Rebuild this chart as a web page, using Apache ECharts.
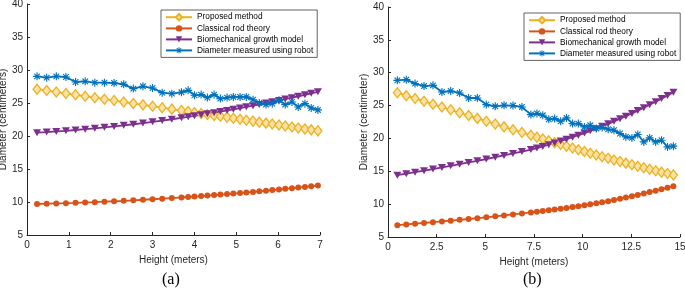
<!DOCTYPE html>
<html>
<head>
<meta charset="utf-8">
<title>Diameter vs height</title>
<script src="https://cdn.jsdelivr.net/npm/echarts@6/dist/echarts.min.js"></script>
<style>
  html, body { margin: 0; padding: 0; background: #fff; }
  #chart { width: 685px; height: 290px; }
</style>
</head>
<body>
<div id="chart"></div>
<script>
// legend names
var names = ['Proposed method', 'Classical rod theory', 'Biomechanical growth model', 'Diameter measured using robot'];

// axis ticks
var yTicks = [5, 10, 15, 20, 25, 30, 35, 40];
var xTicksA = [0, 1, 2, 3, 4, 5, 6, 7];
var xTicksB = [0, 2.5, 5, 7.5, 10, 12.5, 15];

// (a) height in meters
var heightA = [0.24, 0.47, 0.70, 0.93, 1.16, 1.39, 1.62, 1.85, 2.08, 2.31, 2.54, 2.77, 3.00, 3.23, 3.46, 3.69,
    3.85, 4.00, 4.16, 4.31, 4.47, 4.62, 4.78, 4.93, 5.09, 5.24, 5.40, 5.55, 5.71, 5.86, 6.02, 6.17, 6.33, 6.48, 6.64, 6.79, 6.95];
var proposedA = [27.10, 26.88, 26.66, 26.45, 26.24, 26.02, 25.80, 25.58, 25.37, 25.15, 24.93, 24.72, 24.50, 24.29, 24.07, 23.85,
    23.71, 23.56, 23.41, 23.27, 23.12, 22.98, 22.83, 22.68, 22.54, 22.39, 22.25, 22.10, 21.95, 21.81, 21.66, 21.51, 21.37, 21.22, 21.07, 20.93, 20.78];
var rodA = [9.70, 9.74, 9.78, 9.82, 9.87, 9.93, 9.98, 10.05, 10.11, 10.18, 10.26, 10.34, 10.42, 10.50, 10.60, 10.69,
    10.76, 10.83, 10.90, 10.97, 11.05, 11.12, 11.20, 11.28, 11.36, 11.45, 11.53, 11.62, 11.71, 11.80, 11.89, 11.99, 12.09, 12.18, 12.29, 12.39, 12.50];
var bioA = [20.50, 20.59, 20.69, 20.79, 20.91, 21.03, 21.16, 21.31, 21.45, 21.61, 21.78, 21.96, 22.15, 22.34, 22.54, 22.75,
    22.90, 23.06, 23.21, 23.36, 23.54, 23.70, 23.87, 24.05, 24.23, 24.42, 24.60, 24.79, 24.99, 25.19, 25.39, 25.60, 25.81, 26.02, 26.25, 26.47, 26.70];
var robotA = [29.04, 28.84, 29.04, 28.94, 28.18, 28.28, 28.08, 28.08, 28.03, 27.83, 27.18, 27.53, 27.27, 26.57, 26.42, 26.62,
    26.92, 26.17, 26.27, 25.82, 26.27, 25.67, 25.82, 25.92, 25.92, 25.92, 25.50, 25.00, 24.76, 24.90, 25.40, 24.76, 25.15, 24.40, 24.90, 24.25, 23.95];

// (b) height in meters
var heightB = [0.48, 0.94, 1.39, 1.85, 2.31, 2.77, 3.22, 3.68, 4.14, 4.59, 5.05, 5.51, 5.96, 6.42, 6.88, 7.34,
    7.65, 7.95, 8.26, 8.56, 8.87, 9.17, 9.48, 9.78, 10.09, 10.39, 10.70, 11.00, 11.31, 11.61, 11.92, 12.22, 12.53, 12.83, 13.14, 13.44, 13.75, 14.05, 14.36, 14.66];
var proposedB = [26.95, 26.51, 26.08, 25.65, 25.21, 24.78, 24.35, 23.91, 23.48, 23.05, 22.62, 22.19, 21.76, 21.33, 20.90, 20.47,
    20.19, 19.91, 19.63, 19.36, 19.08, 18.81, 18.54, 18.27, 18.00, 17.74, 17.48, 17.22, 16.97, 16.72, 16.48, 16.24, 16.00, 15.77, 15.54, 15.31, 15.09, 14.87, 14.66, 14.45];
var rodB = [6.80, 6.91, 7.02, 7.13, 7.25, 7.37, 7.49, 7.61, 7.74, 7.87, 8.00, 8.14, 8.28, 8.43, 8.58, 8.74,
    8.85, 8.96, 9.07, 9.19, 9.31, 9.43, 9.56, 9.69, 9.83, 9.97, 10.12, 10.27, 10.45, 10.63, 10.82, 11.01, 11.21, 11.41, 11.62, 11.83, 12.05, 12.27, 12.50, 12.74];
var bioB = [14.40, 14.63, 14.86, 15.10, 15.34, 15.58, 15.83, 16.08, 16.34, 16.60, 16.87, 17.14, 17.42, 17.71, 18.00, 18.30,
    18.54, 18.79, 19.05, 19.32, 19.60, 19.89, 20.19, 20.50, 20.82, 21.15, 21.49, 21.85, 22.22, 22.60, 22.99, 23.39, 23.81, 24.24, 24.68, 25.13, 25.59, 26.06, 26.54, 27.03];
var robotB = [28.84, 28.94, 28.34, 27.97, 28.08, 27.06, 27.22, 26.91, 26.15, 26.15, 25.15, 24.89, 25.04, 25.00, 24.79, 23.63,
    23.80, 23.52, 22.92, 23.02, 22.61, 23.12, 22.26, 22.26, 21.75, 22.00, 21.50, 21.65, 21.40, 21.25, 20.75, 20.23, 20.08, 20.60, 19.47, 20.08, 19.47, 19.73, 18.71, 18.82];

var colors = ['#EDB120', '#D95319', '#7E2F8E', '#0072BD'];
// matlab-like asterisk marker
var star = 'path://M4.3,0h1.4v10h-1.4z M0,4.3h10v1.4h-10z M1,1.99l0.99,-0.99l7.01,7.01l-0.99,0.99z M8.01,1l0.99,0.99l-7.01,7.01l-0.99,-0.99z';

var axisColor = '#262626';
var font = '"Liberation Sans", Arial, sans-serif';

function pairs(xs, ys) {
    return xs.map(function (x, i) { return [x, ys[i]]; });
}

function makeSeries(idx, xs, lists) {
    var marks = [
        { symbol: 'diamond', symbolSize: [8, 10], itemStyle: { color: '#F8E2A6', borderColor: colors[0], borderWidth: 1.3 } },
        { symbol: 'circle', symbolSize: 6, itemStyle: { color: colors[1] } },
        { symbol: 'triangle', symbolSize: [8, 7], symbolRotate: 180, itemStyle: { color: colors[2] } },
        { symbol: star, symbolSize: 8, itemStyle: { color: colors[3] } }
    ];
    return lists.map(function (ys, i) {
        return {
            name: names[i],
            type: 'line',
            xAxisIndex: idx,
            yAxisIndex: idx,
            data: pairs(xs, ys),
            symbol: marks[i].symbol,
            symbolSize: marks[i].symbolSize,
            symbolRotate: marks[i].symbolRotate || 0,
            showAllSymbol: true,
            itemStyle: marks[i].itemStyle,
            lineStyle: { color: colors[i], width: 1.8 }
        };
    });
}

function xAxisOf(idx, ticks) {
    return {
        type: 'value', gridIndex: idx,
        min: ticks[0], max: ticks[ticks.length - 1], interval: ticks[1] - ticks[0],
        name: 'Height (meters)', nameLocation: 'middle', nameGap: 16,
        nameTextStyle: { fontSize: 10, color: axisColor, fontFamily: font },
        axisLine: { lineStyle: { color: axisColor, width: 1 } },
        axisTick: { inside: true, length: 3, lineStyle: { color: axisColor } },
        axisLabel: { fontSize: 10, color: axisColor, margin: 5, fontFamily: font },
        splitLine: { show: false }
    };
}

function yAxisOf(idx, label, gap) {
    return {
        type: 'value', gridIndex: idx,
        min: yTicks[0], max: yTicks[yTicks.length - 1], interval: yTicks[1] - yTicks[0],
        name: label, nameLocation: 'middle', nameGap: gap, nameRotate: 90,
        nameTextStyle: { fontSize: 10, color: axisColor, fontFamily: font },
        axisLine: { show: true, lineStyle: { color: axisColor, width: 1 } },
        axisTick: { show: true, inside: true, length: 3, lineStyle: { color: axisColor } },
        axisLabel: { fontSize: 10, color: axisColor, margin: 4, fontFamily: font },
        splitLine: { show: false }
    };
}

function legendOf(left, top) {
    return {
        data: names, orient: 'vertical', left: left, top: top,
        itemWidth: 26, itemHeight: 8, itemGap: 3,
        padding: [3, 4, 3, 4],
        borderColor: '#3a3a3a', borderWidth: 0.8, backgroundColor: '#fff',
        textStyle: { fontSize: 8.3, color: '#000', fontFamily: font }
    };
}

var myChart = echarts.init(document.getElementById('chart'));

var option = {
    animation: false,
    textStyle: { fontFamily: font },
    grid: [
        { left: 27, right: 365, top: 4, bottom: 55, containLabel: false, outerBoundsMode: 'none' },
        { left: 388, right: 5, top: 7, bottom: 53, containLabel: false, outerBoundsMode: 'none' }
    ],
    xAxis: [xAxisOf(0, xTicksA), xAxisOf(1, xTicksB)],
    yAxis: [yAxisOf(0, 'Diameter (centimeters)', 16), yAxisOf(1, 'Diameter (centimeter)', 18)],
    legend: [legendOf(161, 10), legendOf(524, 13)],
    graphic: [
        { type: 'text', left: 162, top: 272, style: { text: '(a)', font: '16px "Liberation Serif", "Times New Roman", serif', fill: '#000' } },
        { type: 'text', left: 523, top: 272, style: { text: '(b)', font: '16px "Liberation Serif", "Times New Roman", serif', fill: '#000' } }
    ],
    series: makeSeries(0, heightA, [proposedA, rodA, bioA, robotA])
        .concat(makeSeries(1, heightB, [proposedB, rodB, bioB, robotB]))
};

myChart.setOption(option);
</script>
</body>
</html>
